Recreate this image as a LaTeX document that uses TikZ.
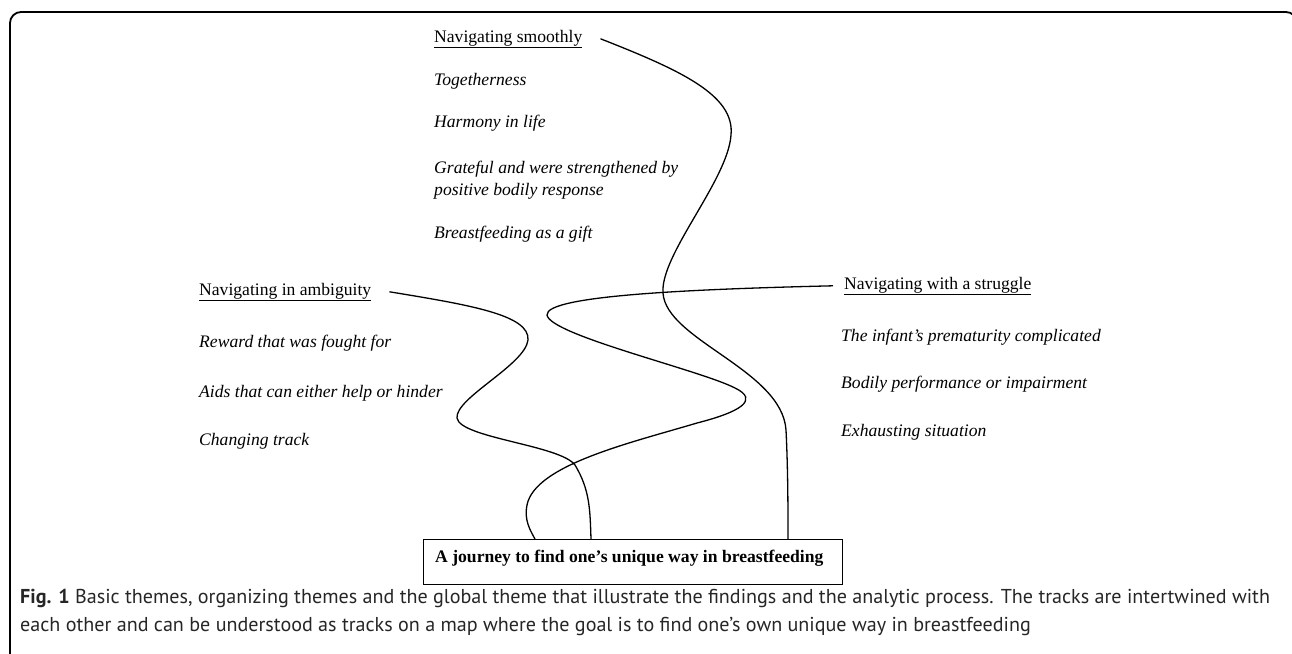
\documentclass[tikz,border=0pt]{standalone}
\usepackage{fontspec}
\setmainfont{Liberation Serif}
\newfontfamily\capfont{PT Sans}
\usepackage{tikz}
\usetikzlibrary{positioning}

\begin{document}
\begin{tikzpicture}[x=1pt, y=-1pt, font=\fontsize{17.6}{20}\selectfont,
    theme/.style={anchor=base west, inner sep=0pt},
    basic/.style={anchor=base west, inner sep=0pt, font=\fontsize{17.6}{22}\selectfont\itshape, align=left},
    track/.style={line width=1.3pt}]

    \useasboundingbox (0,0) rectangle (1292,653);

    % Outer frame, open at the bottom
    \begin{scope}
        \clip (0,0) rectangle (1292,653);
        \draw[line width=1.8pt, rounded corners=11pt] (10,700) -- (10,12) -- (1297,12) -- (1297,700);
    \end{scope}

    % Organizing themes
    \node (smoothly) [theme] at (434,42) {\underline{Navigating smoothly}};
    \node (ambiguity) [theme] at (199,295) {\underline{Navigating in ambiguity}};
    \node (struggle) [theme] at (844,289) {\underline{Navigating with a struggle}};

    % Basic themes under each organizing theme
    \node (together) [basic] at (434,85) {Togetherness};
    \node (harmony) [basic] at (434,127) {Harmony in life};
    \node (grateful) [basic] at (434,195) {Grateful and were strengthened by\\positive bodily response};
    \node (gift) [basic] at (434,238) {Breastfeeding as a gift};

    \node (reward) [basic] at (199,347) {Reward that was fought for};
    \node (aids) [basic] at (199,397) {Aids that can either help or hinder};
    \node (changing) [basic] at (199,445) {Changing track};

    \node (infant) [basic] at (841,341) {The infant’s prematurity complicated};
    \node (bodily) [basic] at (841,388) {Bodily performance or impairment};
    \node (exhausting) [basic] at (841,436) {Exhausting situation};

    % Global theme
    \node (journey) [draw, line width=1.2pt, rectangle, anchor=north west, minimum width=419pt, minimum height=45pt, inner sep=0pt] at (423,539) {};
    \node (journeytext) [theme, font=\fontsize{17.6}{20}\selectfont\bfseries] at (435,562) {A journey to find one’s unique way in breastfeeding};

    % Start and end points of the tracks
    \coordinate (smoothlyStart) at ([xshift=18pt]smoothly.east);
    \coordinate (ambiguityStart) at ([xshift=18pt]ambiguity.east);
    \coordinate (struggleStart) at ([xshift=-11pt]struggle.west);
    \coordinate (smoothlyFoot) at (journey.north -| 788,0);
    \coordinate (ambiguityFoot) at (journey.north -| 591,0);
    \coordinate (struggleFoot) at (journey.north -| 535,0);

    % Tracks
    \draw[track] (smoothlyStart) .. controls (680,70) and (735,95) .. (731,135)
        .. controls (728,180) and (660,255) .. (663,293)
        .. controls (666,340) and (782,370) .. (786,430)
        .. controls (788,470) and (788,510) .. (smoothlyFoot);
    \draw[track] (ambiguityStart) .. controls (470,305) and (530,315) .. (528,340)
        .. controls (525,365) and (455,398) .. (457,418)
        .. controls (460,438) and (560,445) .. (575,465)
        .. controls (590,490) and (590,510) .. (ambiguityFoot);
    \draw[track] (struggleStart) .. controls (700,289) and (545,295) .. (547,315)
        .. controls (550,335) and (700,370) .. (735,388)
        .. controls (760,400) and (740,412) .. (697,423)
        .. controls (630,443) and (535,465) .. (527,505)
        .. controls (524,520) and (530,530) .. (struggleFoot);

    % Caption
    \node (caption) [anchor=base west, inner sep=0pt, align=left, text=black!85, font=\capfont\fontsize{20.1}{28}\selectfont] at (20,631)
        {\textbf{Fig. 1} Basic themes, organizing themes and the global theme that illustrate the findings and the analytic process. The tracks are intertwined with\\
        each other and can be understood as tracks on a map where the goal is to find one’s own unique way in breastfeeding};

\end{tikzpicture}
\end{document}
